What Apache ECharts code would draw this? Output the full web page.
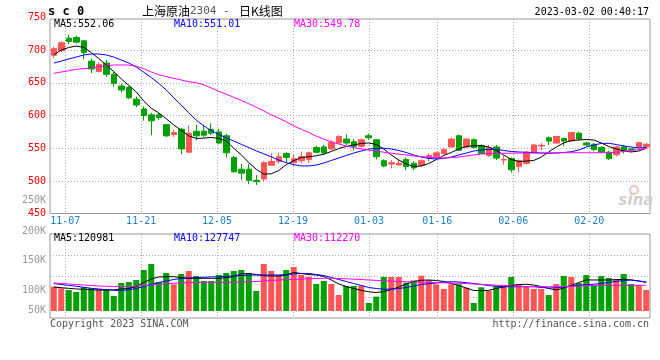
<!DOCTYPE html>
<html><head><meta charset="utf-8">
<script src="https://cdn.jsdelivr.net/npm/echarts@6/dist/echarts.min.js"></script>
<style>html,body{margin:0;padding:0;background:#fff}#c{width:660px;height:360px}</style>
</head><body><div id="c"></div>
<script>
const dates = ['11-03','11-04','11-07','11-08','11-09','11-10','11-11','11-14','11-15','11-16','11-17','11-18','11-21','11-22','11-23','11-24','11-25','11-28','11-29','11-30','12-01','12-02','12-05','12-06','12-07','12-08','12-09','12-12','12-13','12-14','12-15','12-16','12-19','12-20','12-21','12-22','12-23','12-26','12-27','12-28','12-29','12-30','01-03','01-04','01-05','01-06','01-09','01-10','01-11','01-12','01-13','01-16','01-17','01-18','01-19','01-20','01-30','01-31','02-01','02-02','02-03','02-06','02-07','02-08','02-09','02-10','02-13','02-14','02-15','02-16','02-17','02-20','02-21','02-22','02-23','02-24','02-27','02-28','03-01','03-02'];
const tickDates = ['11-07','11-21','12-05','12-19','01-03','01-16','02-06','02-20'];
const priceTicks = [450, 750, 50];
const opens = [692,699,718,719,714,683,667,680,663,645, 643,625,610,601,601,586,571,579,544,576, 576,579,575,569,536,518,518,501,503,524, 530,542,528,531,533,551,552,549,558,564, 560,553,569,563,531,526,524.5,533,527,524, 536,537,542,552,569,552,563,554,539,552, 532,534,522,527,544,553.5,566,558,565,561, 573,558,556,551,544,540,552,549,551.5,552];
const closes = [702,711,713,712,696,671,678,663,649,639, 627,616,600,592,597,569,574,549,573,569, 570,573,558,543,514,512,501,499,528,530, 537,536,534,537,543,544,543,559,568,558, 553,563,566,537,523,528,527,522,520,531, 539,543,548,564,547,564,551,542,551,535, 533,517,531,544,555,554.5,561,568,561,574, 564,555,548,544,534,552,546,547.5,558.5,556];
const highs = [705,713,723,722,715,687,681,685,667,649, 645,629,614,604,604,587,578,581,585,586, 586,588,580,572,538,526,526,509,530,542, 543,544,540,545,545,554,555,562,570,571, 564,565,572,564,533,532,533,536,530,533, 542,545,551,566,571,565,565,556,555,555, 539,536,533,546,557,558,568,569,566,575, 575,560,558,553,546,554,555,550,560,558];
const lows = [688,697,709,710,686,665,666,659,644,635, 625,613,592,570,593,567,567,541,543,562, 567,570,556,536,513,502,495,494,500,523, 527,528,523,527,527,542,540,547,556,555, 547,551,563,533,521,519,523,517,517,522, 530,535,540,551,546,550,549,541,537,532, 525,513,513,525,543,547,555,557,553,560, 562,553,545,542,532,538,542,545,550,550];
const ma5 = [692.4,700,703.8,706.1,704,696,687,677,667,656, 646,636,622,611,604,595,585.5,577.5,569,565, 565.5,566.5,565,561,550,540,528,518,510.5,511, 516,525,531,536,537,538.5,541,545,549.6,552.7, 555,557.3,558.1,555.7,548.9,539.7,532.1,526,522.1,522.9, 526.7,532.8,539,543.5,548.9,552.7,553.8,553.8,551.9,546.6, 539.7,532.8,529.8,530.5,531.3,536.6,544.3,551.9,558.1,561.8, 562.6,563.4,562.6,558.1,552.7,548.9,545.8,544.3,545.8,550];
const ma10 = [680,683,686.3,689.3,692.4,693.9,693.9,692.4,689.3,684.7, 680.2,674,666,658,649,639,627,616,604,593, 584,577,571,566,561,556,551,546,541.5,537, 532,528,525,523,523,524.4,527.5,531.3,535.1,539, 542.7,545.8,548.9,549.6,550,548.9,546.6,543.5,539.7,536.6, 534.4,533.6,534.4,536.6,539.7,542.7,545.8,547.3,548.1,548.1, 546.6,545,544.3,543.8,543.5,542.7,542.3,542.7,543.5,544.7, 547.3,551.9,555,557.3,557.6,555.7,553.4,551.9,550.4,551];
const ma30 = [664.4,666.4,668.4,670.5,671.5,672.5,674.5,676,677.1,677.1, 677.1,675.1,671.5,666.4,662.3,659.3,656.8,654.2,651.6,650.1, 647,642,637,632.5,627.7,623,618,612.6,607,601, 596,590.5,584,579,574,568.5,564,560,556.5,553.5, 551,549,547.3,545.6,544,542.5,541,539.7,538.2,537.1, 536.2,535.6,535.1,535.6,536.6,538.2,539.7,541.2,542,542.3, 542.3,542.5,542.7,542.7,542.7,542.7,543,543.2,543.2,543.2, 543.2,543.2,543.2,543.2,543.2,543.8,545,546.6,548.1,549.8];
// volume in thousands of lots
const volK = [105.5,102.8,100,96.7,104.5,102.8,101.2,101.2,90,111.7, 113.3,116.7,133.3,143.3,113.3,128.3,109.5,126.7,131.7,123.3, 115,115,125,128.3,131.7,133.3,127.8,98.3,143.3,131.7, 125,133.3,138.3,125,122.2,110,115,110,91.7,106.7, 106.7,107.5,78.3,89,121.7,121.7,121.7,112.2,115.8,123.8, 116.7,109.5,101.7,109.5,109.5,103.8,78.3,104.5,98.8,106.7, 108.3,121.7,110,106.7,101.7,101.7,91.7,110,123.3,121.7, 111.7,125,106.7,123.3,120,118.3,126.7,110,108.3,100];
const volMa5 = [105,103.8,102.8,101.7,101.2,100.5,100,100,100.3,101.7, 102.5,105.8,112.5,118.3,121.7,122.2,122.2,120.8,119.5,119.5, 119.5,119.5,119.5,120.5,122.5,126.7,127.5,125.8,123.8,123.3, 123.3,125,129.2,127.5,125.8,125,122.5,116.7,110,105.8, 102.5,99.5,97,95.8,97.5,100.8,105,110,114.2,116.2, 116.7,115.8,114.2,110.8,107.5,103.3,99.2,98.8,99.5,102.5, 105,107.2,109.2,109.5,108.3,105.8,102.5,100,103.3,107.5, 112.5,116.7,116.7,116.7,116.7,117.2,117.8,116.7,115,112.8];
const volMa10 = [110.8,109.2,107.8,106.2,104.5,102.8,101.7,100.5,99.5,99.2, 100.3,102.5,105.8,109.2,112.5,115,117.5,119.2,120,120.5, 121.2,121.7,122.2,122.8,123.3,124.2,124.7,125,125,125, 125,125.8,126.7,127.5,127.5,125.8,124.2,120.8,117.5,114.2, 110.8,107.5,104.2,102.5,101.2,101.7,102.5,104.2,106.7,109.2, 110.5,111.7,113.3,113.8,113.3,112.2,110.8,109.2,107.5,106.2, 105.5,105.5,105.5,105.5,105.5,104.2,103.3,103.8,105,106.7, 107.8,108.8,109.7,110.8,112.5,114.2,115.8,116.7,115,113.3];
const volMa30 = [111.7,110.8,110,109.2,108.3,107.5,106.7,106.2,105.8,105.5, 105.8,106.7,107.5,108.3,109.5,110.5,111.2,111.7,112.2,112.5, 112.8,112.8,112.8,112.8,113,113.3,113.8,114.2,115,115.8, 116.7,117.2,117.8,118.3,118.8,119.2,119.5,119.5,119.2,118.7, 118,117.5,116.7,116,115.3,114.7,114.2,113.8,113.3,113, 112.7,112.3,112,111.7,111.2,110.7,110,109.3,108.7,108, 107.3,106.7,106.2,105.7,105.5,105.5,105.5,105.5,105.7,106, 106.5,107,107.5,107.8,107.8,107.8,107.8,107.8,107.8,107.8];
const volLabels = [['250K',200],['200K',231],['150K',260],['100K',290],['50K',310]];

const MONO = '"DejaVu Sans Mono", monospace';
const CJK = '"Noto Sans CJK SC", sans-serif';
const RED = '#ff5555', GREEN = '#00a000';
const GRIDC = '#a8a8a8';
const isTick = (i, v) => tickDates.indexOf(v) >= 0;

const kdata = opens.map((o, i) => [o, closes[i], lows[i], highs[i]]);
const volData = volK.map((v, i) => ({value: v, itemStyle: {color: closes[i] >= opens[i] ? RED : GREEN}}));

const line = (name, data, color, xi, yi) => ({
  type: 'line', name, data, xAxisIndex: xi, yAxisIndex: yi, showSymbol: false, symbol: 'none',
  lineStyle: {color, width: 1}, itemStyle: {color}, silent: true, animation: false, z: 5
});
const dotted = {color: GRIDC, type: [1, 2], width: 1};
const txt = (text, x, y, fill, extra) => Object.assign({type: 'text', x, y, silent: true, z: 100,
  style: Object.assign({text, fill, font: '10px ' + MONO, verticalAlign: 'middle', align: 'left'}, extra || {})});

const chart = echarts.init(document.getElementById('c'), null, {width: 660, height: 360});
chart.setOption({
  animation: false,
  backgroundColor: '#fff',
  grid: [
    {left: 50, top: 19, width: 600, height: 194.5, show: true, borderColor: '#999', borderWidth: 1, backgroundColor: 'transparent'},
    {left: 50, top: 17.25, width: 600, height: 196.5},
    {left: 50, top: 234, width: 600, height: 84, show: true, borderColor: '#999', borderWidth: 1, backgroundColor: 'transparent'},
    {left: 50, top: 234, width: 600, height: 77}
  ],
  xAxis: [
    {gridIndex: 0, type: 'category', data: dates, boundaryGap: false,
     axisLine: {show: false}, axisTick: {show: false},
     axisLabel: {interval: isTick, color: '#1f7fd0', fontFamily: MONO, fontSize: 10, margin: 3},
     splitLine: {show: true, interval: isTick, lineStyle: dotted}},
    {gridIndex: 1, type: 'category', data: dates, boundaryGap: true, show: false},
    {gridIndex: 2, type: 'category', data: dates, boundaryGap: false,
     axisLine: {show: false}, axisTick: {show: false}, axisLabel: {show: false},
     splitLine: {show: true, interval: isTick, lineStyle: dotted}},
    {gridIndex: 3, type: 'category', data: dates, boundaryGap: true, show: false}
  ],
  yAxis: [
    {gridIndex: 0, type: 'value', min: 0, max: 1, show: false},
    {gridIndex: 1, type: 'value', min: priceTicks[0], max: priceTicks[1], interval: priceTicks[2],
     axisLine: {show: false}, axisTick: {show: false},
     axisLabel: {color: '#ff0000', fontFamily: MONO, fontSize: 10, margin: 4, padding: [0, 0, 3, 0]},
     splitLine: {show: true, showMinLine: false, showMaxLine: false, lineStyle: dotted}},
    {gridIndex: 2, type: 'value', min: 0, max: 4, interval: 1,
     axisLine: {show: false}, axisTick: {show: false}, axisLabel: {show: false},
     splitLine: {show: true, showMinLine: false, showMaxLine: false, lineStyle: dotted}},
    {gridIndex: 3, type: 'value', min: 65, max: 193.33, show: false}
  ],
  series: [
    {type: 'candlestick', data: kdata, xAxisIndex: 1, yAxisIndex: 1, barWidth: 6, silent: true,
     itemStyle: {color: RED, color0: GREEN, borderColor: RED, borderColor0: GREEN, borderWidth: 1}},
    line('MA5', ma5, '#000000', 1, 1),
    line('MA10', ma10, '#0000ff', 1, 1),
    line('MA30', ma30, '#ff00ff', 1, 1),
    {type: 'bar', data: volData, xAxisIndex: 3, yAxisIndex: 3, barWidth: 6, silent: true, clip: true},
    line('VMA5', volMa5, '#000000', 3, 3),
    line('VMA10', volMa10, '#0000ff', 3, 3),
    line('VMA30', volMa30, '#ff00ff', 3, 3)
  ],
  graphic: [
    txt('s c 0', 48, 12, '#000', {font: 'bold 12px ' + MONO}),
    {type: 'text', x: 142, y: 11, silent: true, z: 100, style: {
      text: '{a|上海原油}{b|2304}{b| - }{a| 日K线图}', verticalAlign: 'middle',
      rich: {a: {fontFamily: CJK, fontSize: 12, fill: '#000', color: '#000'},
             b: {fontFamily: MONO, fontSize: 11, fill: '#555', color: '#555'}}}},
    txt('2023-03-02 00:40:17', 649, 12, '#000', {align: 'right'}),
    txt('MA5:552.06', 54, 24, '#000'),
    txt('MA10:551.01', 174, 24, '#0000ff'),
    txt('MA30:549.78', 294, 24, '#ff00ff'),
    txt('MA5:120981', 54, 238, '#000'),
    txt('MA10:127747', 174, 238, '#0000ff'),
    txt('MA30:112270', 294, 238, '#ff00ff'),
    ...volLabels.map(([t, y]) => txt(t, 46, y, '#999', {align: 'right'})),
    txt('Copyright 2023 SINA.COM', 50, 324, '#555'),
    txt('http://finance.sina.com.cn', 649, 324, '#555', {align: 'right'}),
    {type: 'circle', shape: {cx: 634, cy: 190, r: 4}, silent: true, z: 1,
     style: {fill: 'none', stroke: '#f0c4c4', lineWidth: 2}},
    txt('sina', 636, 201, '#cfcfcf', {align: 'center', font: 'italic bold 15px "DejaVu Sans", sans-serif'})
  ]
});
</script></body></html>
